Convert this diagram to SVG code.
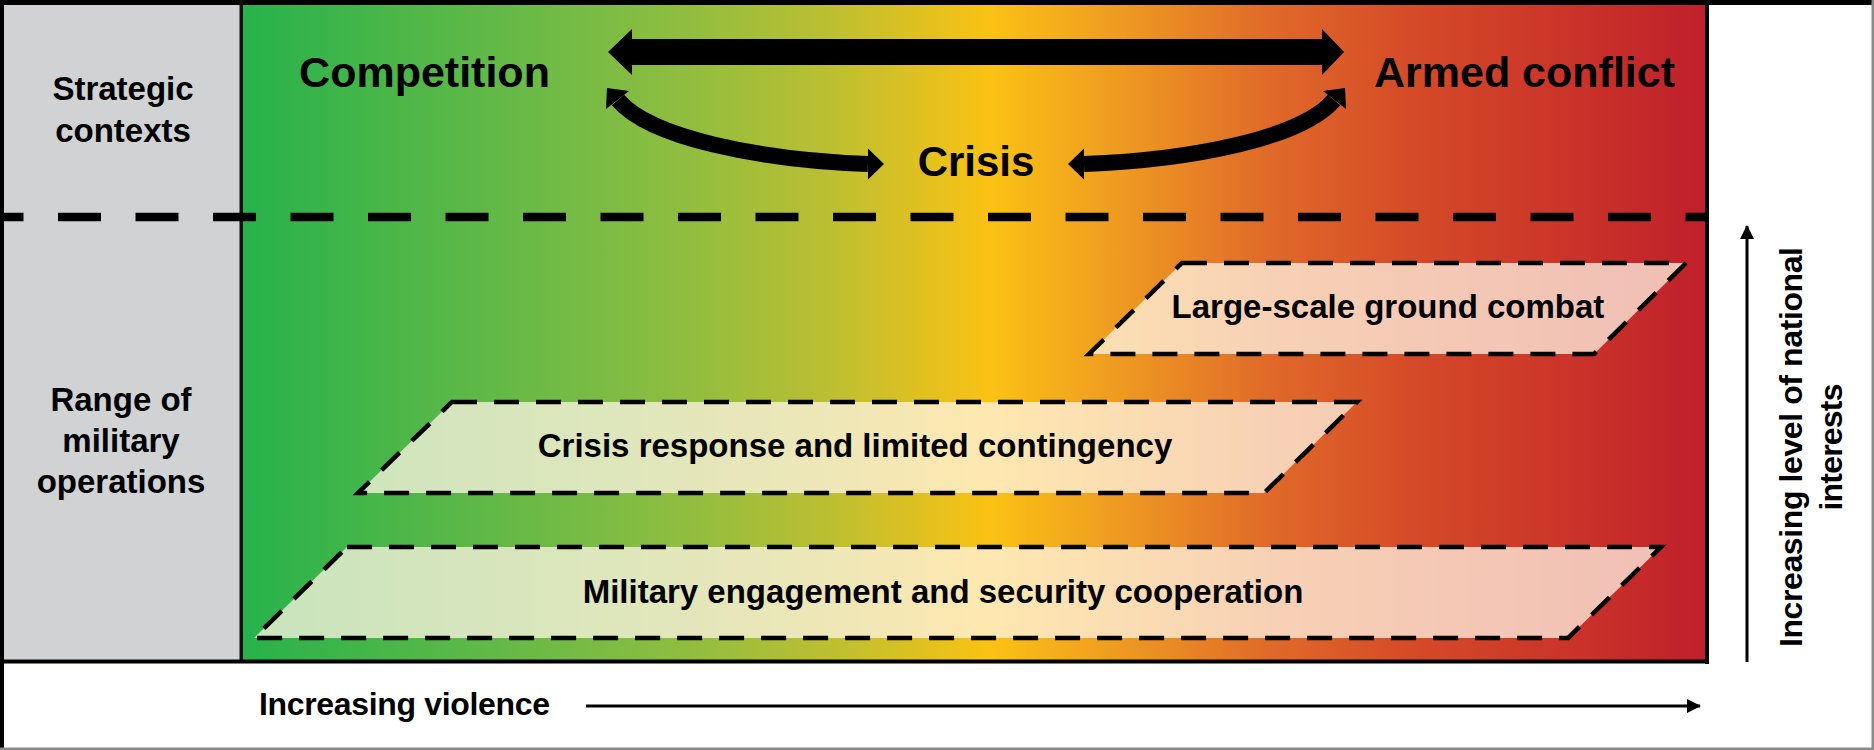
<svg xmlns="http://www.w3.org/2000/svg" width="1874" height="750" viewBox="0 0 1874 750">
<defs>
<linearGradient id="heat" gradientUnits="userSpaceOnUse" x1="243" y1="0" x2="1707" y2="0">
<stop offset="0" stop-color="#27b24b"/>
<stop offset="0.2" stop-color="#6cba46"/>
<stop offset="0.3" stop-color="#8fbd40"/>
<stop offset="0.4" stop-color="#bbbf32"/>
<stop offset="0.51" stop-color="#fbc214"/>
<stop offset="0.6" stop-color="#ee9a22"/>
<stop offset="0.7" stop-color="#e06a29"/>
<stop offset="0.8" stop-color="#d54a28"/>
<stop offset="0.9" stop-color="#cb3529"/>
<stop offset="1" stop-color="#bf1f2b"/>
</linearGradient>
<marker id="ah" viewBox="0 0 14 14" refX="13" refY="7" markerWidth="14" markerHeight="14" markerUnits="userSpaceOnUse" orient="auto">
<path d="M0,0 L14,7 L0,14 Z" fill="#000"/>
</marker>
<style>
.t{font-family:"Liberation Sans",Arial,sans-serif;font-weight:bold;fill:#000;text-anchor:middle}
.s33{font-size:33px}
.big{font-size:43px}
.par{fill:#fff4e4;fill-opacity:0.75;stroke:#000;stroke-width:4.5;stroke-dasharray:25 17;stroke-linejoin:miter}
.thin{stroke:#000;stroke-width:3;fill:none}
.curve{stroke:#000;stroke-width:16;fill:none}
</style>
</defs>

<!-- background -->
<rect x="0" y="0" width="1874" height="750" fill="#fff"/>

<g id="gray-column">
<rect x="2" y="2" width="240" height="660" fill="#d1d2d4"/>
</g>
<g id="heat-area">
<rect x="242" y="2" width="1465" height="660" fill="url(#heat)"/>
</g>

<!-- frame lines -->
<g id="frame">
<rect x="0" y="0" width="1874" height="5" fill="#000"/>
<rect x="0" y="0" width="4" height="750" fill="#000"/>
<rect x="239.5" y="0" width="3.5" height="663" fill="#111"/>
<rect x="1705" y="0" width="4" height="664" fill="#000"/>
<rect x="0" y="659.5" width="1709" height="4" fill="#000"/>
<rect x="1871.5" y="0" width="2.5" height="750" fill="#8a8a8a"/>
<rect x="0" y="747.5" width="1874" height="2.5" fill="#8a8a8a"/>
<line x1="0" y1="217" x2="1707" y2="217" stroke="#000" stroke-width="8.5" stroke-dasharray="43 34.5" stroke-dashoffset="19.5"/>
</g>

<g id="label-strategic">
<text class="t s33" x="123" y="100">Strategic</text>
<text class="t s33" x="123" y="142">contexts</text>
</g>
<g id="label-range">
<text class="t s33" x="121" y="411">Range of</text>
<text class="t s33" x="121" y="452">military</text>
<text class="t s33" x="121" y="493">operations</text>
</g>

<g id="node-competition">
<text class="t big" x="424.5" y="87">Competition</text>
</g>
<g id="node-armed-conflict">
<text class="t big" x="1524.5" y="87">Armed conflict</text>
</g>
<g id="node-crisis">
<text class="t" style="font-size:42px" x="976" y="176">Crisis</text>
</g>

<g id="connectors">
<!-- big double arrow -->
<path d="M608,52 L632,29 L632,39 L1322,39 L1322,29 L1344,52 L1322,75 L1322,65 L632,65 L632,75 Z" fill="#000"/>
<!-- left curve -->
<path class="curve" d="M618,100 C650,138 760,160 868,164"/>
<path d="M607,88 L629,91 L606,109 Z" fill="#000"/>
<path d="M884,164 L868,148.5 L868,179.5 Z" fill="#000"/>
<!-- right curve -->
<path class="curve" d="M1334,100 C1302,138 1192,160 1084,164"/>
<path d="M1345,88 L1323,91 L1346,109 Z" fill="#000"/>
<path d="M1068,164 L1084,148.5 L1084,179.5 Z" fill="#000"/>
<!-- axis arrows -->
<line class="thin" x1="586" y1="706" x2="1700" y2="706" marker-end="url(#ah)"/>
<line class="thin" x1="1747" y1="662" x2="1747" y2="226" marker-end="url(#ah)"/>
</g>

<g id="node-large-scale">
<path class="par" d="M1182,263 L1686,263 L1594,354 L1089,354 Z"/>
<text class="t s33" x="1388" y="318">Large-scale ground combat</text>
</g>
<g id="node-crisis-response">
<path class="par" d="M452,402 L1357,402 L1264,493 L358,493 Z"/>
<text class="t s33" x="855" y="457">Crisis response and limited contingency</text>
</g>
<g id="node-military-engagement">
<path class="par" d="M347,547 L1661,547 L1568,638 L254,638 Z"/>
<text class="t s33" x="943" y="603">Military engagement and security cooperation</text>
</g>

<g id="label-violence">
<text class="t" style="font-size:32px;text-anchor:start" x="259" y="715" textLength="291" lengthAdjust="spacing">Increasing violence</text>
</g>
<g id="label-national">
<text class="t" style="font-size:32px" x="1802" y="447" transform="rotate(-90 1802 447)" textLength="400" lengthAdjust="spacing">Increasing level of national</text>
<text class="t" style="font-size:32px" x="1842" y="447" transform="rotate(-90 1842 447)" textLength="127" lengthAdjust="spacing">interests</text>
</g>
</svg>
